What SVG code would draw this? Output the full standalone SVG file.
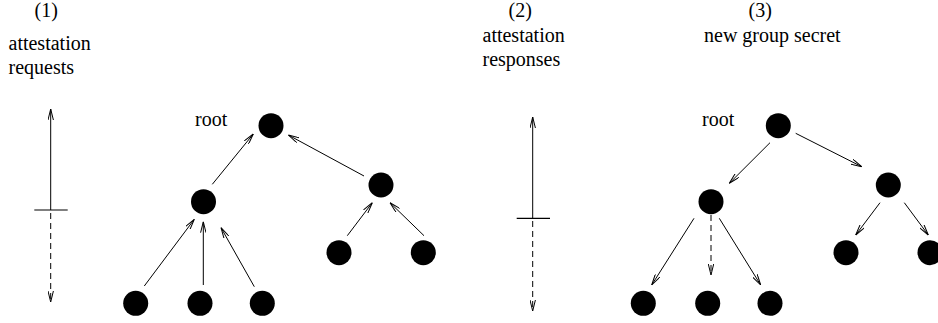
<svg xmlns="http://www.w3.org/2000/svg" width="938" height="323" viewBox="0 0 938 323">
<style>
text{font-family:"Liberation Serif","Times New Roman",serif;font-size:20px;fill:#000}
.n{fill:#000}
.e{stroke:#000;stroke-width:1;fill:none;marker-end:url(#ah)}
.d{stroke-dasharray:6 4}
.t{stroke:#000;stroke-width:1.2;fill:none}
</style>
<defs>
<marker id="ah" viewBox="0 0 11 6" refX="11" refY="3" markerWidth="11" markerHeight="6" markerUnits="userSpaceOnUse" orient="auto">
<path d="M0,0.3 L11,3 L0,5.7" fill="none" stroke="#000" stroke-width="1"/>
</marker>
</defs>
<rect width="938" height="323" fill="#fff"/>
<g id="labels">
<text x="34.5" y="17">(1)</text>
<text x="8.5" y="50">attestation</text>
<text x="8.5" y="74">requests</text>
<text x="508.5" y="17">(2)</text>
<text x="482.5" y="42">attestation</text>
<text x="482.5" y="66">responses</text>
<text x="748.5" y="17">(3)</text>
<text x="704" y="42">new group secret</text>
<text x="195" y="126">root</text>
<text x="702" y="126">root</text>
</g>
<g id="legend1">
<line class="e" x1="50.7" y1="210" x2="50.7" y2="109"/>
<line class="t" x1="34.3" y1="210" x2="67.7" y2="210"/>
<line class="e d" x1="50.7" y1="213" x2="50.7" y2="302"/>
</g>
<g id="legend2">
<line class="e" x1="532.7" y1="218" x2="532.7" y2="117"/>
<line class="t" x1="516.7" y1="218.3" x2="550" y2="218.3"/>
<line class="e d" x1="532.7" y1="221" x2="532.7" y2="311"/>
</g>
<g id="tree1-root"><circle class="n" cx="271" cy="125.7" r="12.5"/></g>
<g id="tree1-a"><circle class="n" cx="203.5" cy="201.7" r="12.5"/></g>
<g id="tree1-b"><circle class="n" cx="381" cy="185" r="12.5"/></g>
<g id="tree1-a1"><circle class="n" cx="135.7" cy="303.3" r="12.5"/></g>
<g id="tree1-a2"><circle class="n" cx="200" cy="303.3" r="12.5"/></g>
<g id="tree1-a3"><circle class="n" cx="262.3" cy="303.3" r="12.5"/></g>
<g id="tree1-b1"><circle class="n" cx="339" cy="252.7" r="12.5"/></g>
<g id="tree1-b2"><circle class="n" cx="423.3" cy="252.7" r="12.5"/></g>
<g id="tree2-root"><circle class="n" cx="778.3" cy="125.7" r="12.5"/></g>
<g id="tree2-a"><circle class="n" cx="711" cy="201.7" r="12.5"/></g>
<g id="tree2-b"><circle class="n" cx="888.3" cy="185" r="12.5"/></g>
<g id="tree2-a1"><circle class="n" cx="643.3" cy="303.3" r="12.5"/></g>
<g id="tree2-a2"><circle class="n" cx="707.7" cy="303.3" r="12.5"/></g>
<g id="tree2-a3"><circle class="n" cx="770" cy="303.3" r="12.5"/></g>
<g id="tree2-b1"><circle class="n" cx="846" cy="252.7" r="12.5"/></g>
<g id="tree2-b2"><circle class="n" cx="930" cy="252.7" r="12.5"/></g>
<g id="connectors">
<line class="e" x1="212.3" y1="184.3" x2="253.3" y2="134"/>
<line class="e" x1="364" y1="176" x2="288.3" y2="135"/>
<line class="e" x1="144.3" y1="286" x2="194.3" y2="219.3"/>
<line class="e" x1="203.3" y1="285" x2="203.3" y2="221.7"/>
<line class="e" x1="254.3" y1="286.7" x2="221" y2="227.7"/>
<line class="e" x1="347.3" y1="235.7" x2="372.3" y2="202.7"/>
<line class="e" x1="424" y1="235.7" x2="390" y2="202.7"/>
<line class="e" x1="770" y1="142.7" x2="729.3" y2="183.3"/>
<line class="e" x1="795.7" y1="133.3" x2="861.7" y2="166.7"/>
<line class="e" x1="694" y1="218.3" x2="651.7" y2="285"/>
<line class="e d" x1="711" y1="215" x2="711" y2="275"/>
<line class="e" x1="719.3" y1="218.3" x2="760.7" y2="285"/>
<line class="e" x1="880" y1="202.7" x2="855.7" y2="235"/>
<line class="e" x1="904.3" y1="202.7" x2="928.3" y2="235"/>
</g>
</svg>
